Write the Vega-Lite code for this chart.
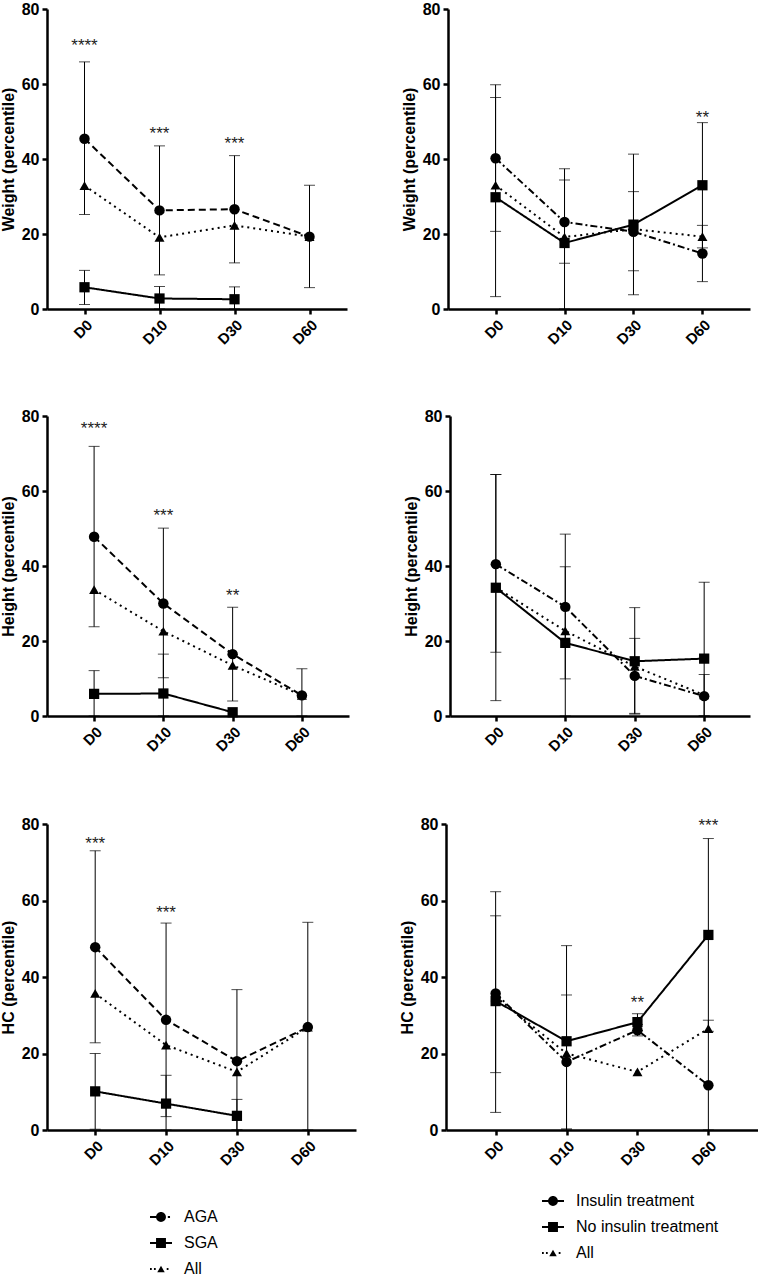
{
  "$schema": "https://vega.github.io/schema/vega-lite/v6.json",
  "padding": {"left": 0, "top": 1, "right": 0, "bottom": 0},
  "background": "white",
  "spacing": 60,
  "resolve": {"scale": {"shape": "independent", "size": "independent", "strokeDash": "independent"}},
  "vconcat": [
    {
      "spacing": 54,
      "resolve": {"scale": {"shape": "independent", "size": "independent", "strokeDash": "independent"}},
      "hconcat": [
        {
          "width": 300, "height": 300,
          "data": {"values": [
            {"t": "D0", "g": "All", "v": 32.9, "lo": null, "hi": null},
            {"t": "D10", "g": "All", "v": 19.1, "lo": null, "hi": null},
            {"t": "D30", "g": "All", "v": 22.3, "lo": null, "hi": null},
            {"t": "D60", "g": "All", "v": 19.3, "lo": null, "hi": null},
            {"t": "D0", "g": "AGA", "v": 45.4, "lo": 25.2, "hi": 65.9},
            {"t": "D10", "g": "AGA", "v": 26.3, "lo": 9.1, "hi": 43.5},
            {"t": "D30", "g": "AGA", "v": 26.6, "lo": 12.3, "hi": 40.9},
            {"t": "D60", "g": "AGA", "v": 19.3, "lo": 5.7, "hi": 33.0},
            {"t": "D0", "g": "SGA", "v": 5.8, "lo": 1.2, "hi": 10.3},
            {"t": "D10", "g": "SGA", "v": 2.8, "lo": 0, "hi": 6.0},
            {"t": "D30", "g": "SGA", "v": 2.6, "lo": 0, "hi": 5.9}
          ]},
          "encoding": {"x": {"field": "t", "type": "ordinal", "scale": {"type": "point", "domain": ["D0", "D10", "D30", "D60"], "padding": 0.5}, "axis": {"title": null}}},
          "layer": [
            {"mark": {"type": "rule", "strokeWidth": 1, "color": "black"}, "encoding": {"y": {"field": "lo", "type": "quantitative", "title": "Weight (percentile)", "scale": {"domain": [0, 80]}, "axis": {"values": [0, 20, 40, 60, 80]}}, "y2": {"field": "hi"}}},
            {"mark": {"type": "tick", "orient": "horizontal", "size": 11, "thickness": 1, "color": "black"}, "encoding": {"y": {"field": "lo", "type": "quantitative", "title": "Weight (percentile)"}}},
            {"mark": {"type": "tick", "orient": "horizontal", "size": 11, "thickness": 1, "color": "black"}, "encoding": {"y": {"field": "hi", "type": "quantitative", "title": "Weight (percentile)"}}},
            {"mark": {"type": "line", "strokeWidth": 2, "color": "black"}, "encoding": {"y": {"field": "v", "type": "quantitative", "title": "Weight (percentile)"}, "strokeDash": {"field": "g", "type": "nominal", "scale": {"domain": ["AGA", "SGA", "All"], "range": [[7, 4], [1, 0], [2, 4]]}, "legend": null}}},
            {"mark": {"type": "point", "filled": true, "opacity": 1, "color": "black"}, "encoding": {"y": {"field": "v", "type": "quantitative", "title": "Weight (percentile)"}, "shape": {"field": "g", "type": "nominal", "scale": {"domain": ["AGA", "SGA", "All"], "range": ["circle", "square", "triangle-up"]}, "legend": null}, "size": {"field": "g", "type": "nominal", "scale": {"domain": ["AGA", "SGA", "All"], "range": [110, 100, 64]}, "legend": null}}},
            {"data": {"values": [{"t": "D0", "y": 71.6, "s": "****"}, {"t": "D10", "y": 48.0, "s": "***"}, {"t": "D30", "y": 45.3, "s": "***"}]}, "mark": {"type": "text", "fontSize": 17, "baseline": "alphabetic", "dy": 10, "color": "#222222", "font": "Liberation Sans"}, "encoding": {"y": {"field": "y", "type": "quantitative", "title": "Weight (percentile)"}, "text": {"field": "s"}}}
          ]
        },
        {
          "width": 302, "height": 300,
          "data": {"values": [
            {"t": "D0", "g": "All", "v": 33.0, "lo": null, "hi": null},
            {"t": "D10", "g": "All", "v": 19.2, "lo": null, "hi": null},
            {"t": "D30", "g": "All", "v": 21.3, "lo": null, "hi": null},
            {"t": "D60", "g": "All", "v": 19.3, "lo": null, "hi": null},
            {"t": "D0", "g": "Insulin treatment", "v": 40.2, "lo": 20.7, "hi": 59.8},
            {"t": "D10", "g": "Insulin treatment", "v": 23.2, "lo": 12.2, "hi": 34.4},
            {"t": "D30", "g": "Insulin treatment", "v": 20.6, "lo": 10.2, "hi": 31.3},
            {"t": "D60", "g": "Insulin treatment", "v": 14.8, "lo": 7.3, "hi": 22.3},
            {"t": "D0", "g": "No insulin treatment", "v": 29.8, "lo": 3.3, "hi": 56.4},
            {"t": "D10", "g": "No insulin treatment", "v": 17.6, "lo": 0, "hi": 37.4},
            {"t": "D30", "g": "No insulin treatment", "v": 22.5, "lo": 3.8, "hi": 41.3},
            {"t": "D60", "g": "No insulin treatment", "v": 33.0, "lo": 16.3, "hi": 49.7}
          ]},
          "encoding": {"x": {"field": "t", "type": "ordinal", "scale": {"type": "point", "domain": ["D0", "D10", "D30", "D60"], "padding": 0.69}, "axis": {"title": null}}},
          "layer": [
            {"mark": {"type": "rule", "strokeWidth": 1, "color": "black"}, "encoding": {"y": {"field": "lo", "type": "quantitative", "title": "Weight (percentile)", "scale": {"domain": [0, 80]}, "axis": {"values": [0, 20, 40, 60, 80]}}, "y2": {"field": "hi"}}},
            {"mark": {"type": "tick", "orient": "horizontal", "size": 11, "thickness": 1, "color": "black"}, "encoding": {"y": {"field": "lo", "type": "quantitative", "title": "Weight (percentile)"}}},
            {"mark": {"type": "tick", "orient": "horizontal", "size": 11, "thickness": 1, "color": "black"}, "encoding": {"y": {"field": "hi", "type": "quantitative", "title": "Weight (percentile)"}}},
            {"mark": {"type": "line", "strokeWidth": 2, "color": "black"}, "encoding": {"y": {"field": "v", "type": "quantitative", "title": "Weight (percentile)"}, "strokeDash": {"field": "g", "type": "nominal", "scale": {"domain": ["Insulin treatment", "No insulin treatment", "All"], "range": [[7, 3, 2, 3], [1, 0], [2, 4]]}, "legend": null}}},
            {"mark": {"type": "point", "filled": true, "opacity": 1, "color": "black"}, "encoding": {"y": {"field": "v", "type": "quantitative", "title": "Weight (percentile)"}, "shape": {"field": "g", "type": "nominal", "scale": {"domain": ["Insulin treatment", "No insulin treatment", "All"], "range": ["circle", "square", "triangle-up"]}, "legend": null}, "size": {"field": "g", "type": "nominal", "scale": {"domain": ["Insulin treatment", "No insulin treatment", "All"], "range": [110, 100, 64]}, "legend": null}}},
            {"data": {"values": [{"t": "D60", "y": 52.4, "s": "**"}]}, "mark": {"type": "text", "fontSize": 17, "baseline": "alphabetic", "dy": 10, "color": "#222222", "font": "Liberation Sans"}, "encoding": {"y": {"field": "y", "type": "quantitative", "title": "Weight (percentile)"}, "text": {"field": "s"}}}
          ]
        }
      ]
    },
    {
      "spacing": 61,
      "resolve": {"scale": {"shape": "independent", "size": "independent", "strokeDash": "independent"}},
      "vconcat": [
        {
          "spacing": 54,
          "resolve": {"scale": {"shape": "independent", "size": "independent", "strokeDash": "independent"}},
          "hconcat": [
            {
              "width": 302, "height": 300,
              "data": {"values": [
                {"t": "D0", "g": "All", "v": 33.7, "lo": null, "hi": null},
                {"t": "D10", "g": "All", "v": 22.6, "lo": null, "hi": null},
                {"t": "D30", "g": "All", "v": 13.5, "lo": null, "hi": null},
                {"t": "D60", "g": "All", "v": 5.5, "lo": null, "hi": null},
                {"t": "D0", "g": "AGA", "v": 47.8, "lo": 23.8, "hi": 71.9},
                {"t": "D10", "g": "AGA", "v": 30.0, "lo": 10.2, "hi": 50.1},
                {"t": "D30", "g": "AGA", "v": 16.5, "lo": 4.0, "hi": 29.0},
                {"t": "D60", "g": "AGA", "v": 5.5, "lo": 0, "hi": 12.6},
                {"t": "D0", "g": "SGA", "v": 5.9, "lo": 0, "hi": 12.1},
                {"t": "D10", "g": "SGA", "v": 6.0, "lo": 0, "hi": 16.5},
                {"t": "D30", "g": "SGA", "v": 1.0, "lo": null, "hi": null}
              ]},
              "encoding": {"x": {"field": "t", "type": "ordinal", "scale": {"type": "point", "domain": ["D0", "D10", "D30", "D60"], "padding": 0.68}, "axis": {"title": null}}},
              "layer": [
                {"mark": {"type": "rule", "strokeWidth": 1, "color": "black"}, "encoding": {"y": {"field": "lo", "type": "quantitative", "title": "Height (percentile)", "scale": {"domain": [0, 80]}, "axis": {"values": [0, 20, 40, 60, 80]}}, "y2": {"field": "hi"}}},
                {"mark": {"type": "tick", "orient": "horizontal", "size": 11, "thickness": 1, "color": "black"}, "encoding": {"y": {"field": "lo", "type": "quantitative", "title": "Height (percentile)"}}},
                {"mark": {"type": "tick", "orient": "horizontal", "size": 11, "thickness": 1, "color": "black"}, "encoding": {"y": {"field": "hi", "type": "quantitative", "title": "Height (percentile)"}}},
                {"mark": {"type": "line", "strokeWidth": 2, "color": "black"}, "encoding": {"y": {"field": "v", "type": "quantitative", "title": "Height (percentile)"}, "strokeDash": {"field": "g", "type": "nominal", "scale": {"domain": ["AGA", "SGA", "All"], "range": [[7, 4], [1, 0], [2, 4]]}, "legend": null}}},
                {"mark": {"type": "point", "filled": true, "opacity": 1, "color": "black"}, "encoding": {"y": {"field": "v", "type": "quantitative", "title": "Height (percentile)"}, "shape": {"field": "g", "type": "nominal", "scale": {"domain": ["AGA", "SGA", "All"], "range": ["circle", "square", "triangle-up"]}, "legend": null}, "size": {"field": "g", "type": "nominal", "scale": {"domain": ["AGA", "SGA", "All"], "range": [110, 100, 64]}, "legend": null}}},
                {"data": {"values": [{"t": "D0", "y": 77.8, "s": "****"}, {"t": "D10", "y": 54.7, "s": "***"}, {"t": "D30", "y": 33.4, "s": "**"}]}, "mark": {"type": "text", "fontSize": 17, "baseline": "alphabetic", "dy": 10, "color": "#222222", "font": "Liberation Sans"}, "encoding": {"y": {"field": "y", "type": "quantitative", "title": "Height (percentile)"}, "text": {"field": "s"}}}
              ]
            },
            {
              "width": 300, "height": 300,
              "data": {"values": [
                {"t": "D0", "g": "All", "v": 34.3, "lo": null, "hi": null},
                {"t": "D10", "g": "All", "v": 22.7, "lo": null, "hi": null},
                {"t": "D30", "g": "All", "v": 13.2, "lo": null, "hi": null},
                {"t": "D60", "g": "All", "v": 5.6, "lo": null, "hi": null},
                {"t": "D0", "g": "Insulin treatment", "v": 40.5, "lo": 17.0, "hi": 64.4},
                {"t": "D10", "g": "Insulin treatment", "v": 29.1, "lo": 9.9, "hi": 48.5},
                {"t": "D30", "g": "Insulin treatment", "v": 10.7, "lo": 0.7, "hi": 20.7},
                {"t": "D60", "g": "Insulin treatment", "v": 5.3, "lo": 0, "hi": 11.1},
                {"t": "D0", "g": "No insulin treatment", "v": 34.2, "lo": 4.1, "hi": 64.4},
                {"t": "D10", "g": "No insulin treatment", "v": 19.5, "lo": 0, "hi": 39.8},
                {"t": "D30", "g": "No insulin treatment", "v": 14.6, "lo": 0.5, "hi": 28.9},
                {"t": "D60", "g": "No insulin treatment", "v": 15.3, "lo": 0, "hi": 35.7}
              ]},
              "encoding": {"x": {"field": "t", "type": "ordinal", "scale": {"type": "point", "domain": ["D0", "D10", "D30", "D60"], "padding": 0.66}, "axis": {"title": null}}},
              "layer": [
                {"mark": {"type": "rule", "strokeWidth": 1, "color": "black"}, "encoding": {"y": {"field": "lo", "type": "quantitative", "title": "Height (percentile)", "scale": {"domain": [0, 80]}, "axis": {"values": [0, 20, 40, 60, 80]}}, "y2": {"field": "hi"}}},
                {"mark": {"type": "tick", "orient": "horizontal", "size": 11, "thickness": 1, "color": "black"}, "encoding": {"y": {"field": "lo", "type": "quantitative", "title": "Height (percentile)"}}},
                {"mark": {"type": "tick", "orient": "horizontal", "size": 11, "thickness": 1, "color": "black"}, "encoding": {"y": {"field": "hi", "type": "quantitative", "title": "Height (percentile)"}}},
                {"mark": {"type": "line", "strokeWidth": 2, "color": "black"}, "encoding": {"y": {"field": "v", "type": "quantitative", "title": "Height (percentile)"}, "strokeDash": {"field": "g", "type": "nominal", "scale": {"domain": ["Insulin treatment", "No insulin treatment", "All"], "range": [[7, 3, 2, 3], [1, 0], [2, 4]]}, "legend": null}}},
                {"mark": {"type": "point", "filled": true, "opacity": 1, "color": "black"}, "encoding": {"y": {"field": "v", "type": "quantitative", "title": "Height (percentile)"}, "shape": {"field": "g", "type": "nominal", "scale": {"domain": ["Insulin treatment", "No insulin treatment", "All"], "range": ["circle", "square", "triangle-up"]}, "legend": null}, "size": {"field": "g", "type": "nominal", "scale": {"domain": ["Insulin treatment", "No insulin treatment", "All"], "range": [110, 100, 64]}, "legend": null}}}
              ]
            }
          ]
        },
        {
          "spacing": 43,
          "resolve": {"scale": {"shape": "independent", "size": "independent", "strokeDash": "independent"}},
          "hconcat": [
            {
              "width": 309, "height": 306,
              "resolve": {"scale": {"shape": "independent"}},
              "data": {"values": [
                {"t": "D0", "g": "All", "v": 35.7, "lo": null, "hi": null},
                {"t": "D10", "g": "All", "v": 22.2, "lo": null, "hi": null},
                {"t": "D30", "g": "All", "v": 15.2, "lo": null, "hi": null},
                {"t": "D60", "g": "All", "v": 26.9, "lo": null, "hi": null},
                {"t": "D0", "g": "AGA", "v": 47.8, "lo": 22.8, "hi": 73.0},
                {"t": "D10", "g": "AGA", "v": 28.8, "lo": 3.5, "hi": 54.1},
                {"t": "D30", "g": "AGA", "v": 18.0, "lo": 0, "hi": 36.7},
                {"t": "D60", "g": "AGA", "v": 26.9, "lo": 0, "hi": 54.3},
                {"t": "D0", "g": "SGA", "v": 10.1, "lo": 0.2, "hi": 20.0},
                {"t": "D10", "g": "SGA", "v": 6.9, "lo": 0, "hi": 14.3},
                {"t": "D30", "g": "SGA", "v": 3.7, "lo": 0, "hi": 8.0}
              ]},
              "encoding": {"x": {"field": "t", "type": "ordinal", "scale": {"type": "point", "domain": ["D0", "D10", "D30", "D60"], "padding": 0.68}, "axis": {"title": null}}},
              "layer": [
                {"mark": {"type": "rule", "strokeWidth": 1, "color": "black"}, "encoding": {"y": {"field": "lo", "type": "quantitative", "title": "HC (percentile)", "scale": {"domain": [0, 80]}, "axis": {"values": [0, 20, 40, 60, 80]}}, "y2": {"field": "hi"}}},
                {"mark": {"type": "tick", "orient": "horizontal", "size": 11, "thickness": 1, "color": "black"}, "encoding": {"y": {"field": "lo", "type": "quantitative", "title": "HC (percentile)"}}},
                {"mark": {"type": "tick", "orient": "horizontal", "size": 11, "thickness": 1, "color": "black"}, "encoding": {"y": {"field": "hi", "type": "quantitative", "title": "HC (percentile)"}}},
                {"mark": {"type": "line", "strokeWidth": 2, "color": "black"}, "encoding": {"y": {"field": "v", "type": "quantitative", "title": "HC (percentile)"}, "strokeDash": {"field": "g", "type": "nominal", "scale": {"domain": ["AGA", "SGA", "All"], "range": [[7, 4], [1, 0], [2, 4]]}, "legend": null}}},
                {"mark": {"type": "point", "filled": true, "opacity": 1, "color": "black"}, "encoding": {"y": {"field": "v", "type": "quantitative", "title": "HC (percentile)"}, "shape": {"field": "g", "type": "nominal", "scale": {"domain": ["AGA", "SGA", "All"], "range": ["circle", "square", "triangle-up"]}, "legend": null}, "size": {"field": "g", "type": "nominal", "scale": {"domain": ["AGA", "SGA", "All"], "range": [110, 100, 64]}, "legend": null}}},
                {"data": {"values": [{"t": "D0", "y": 76.1, "s": "***"}, {"t": "D10", "y": 58.1, "s": "***"}]}, "mark": {"type": "text", "fontSize": 17, "baseline": "alphabetic", "dy": 10, "color": "#222222", "font": "Liberation Sans"}, "encoding": {"y": {"field": "y", "type": "quantitative", "title": "HC (percentile)"}, "text": {"field": "s"}}},
                {"data": {"values": [{"g": "AGA"}, {"g": "SGA"}, {"g": "All"}]}, "transform": [{"filter": "false"}], "mark": {"type": "point", "filled": true, "color": "black"},
                 "encoding": {"shape": {"field": "g", "type": "nominal",
                   "scale": {"domain": ["AGA", "SGA", "All"], "range": [
                     "M-1,-0.09H-0.4V0.09H-1Z M-0.45,0A0.45,0.45,0,1,1,0.45,0A0.45,0.45,0,1,1,-0.45,0Z M0.62,-0.09H0.82V0.09H0.62Z",
                     "M-1,-0.09H1V0.09H-1Z M-0.45,-0.45H0.45V0.45H-0.45Z",
                     "M-1,-0.08H-0.84V0.08H-1Z M-0.64,-0.08H-0.48V0.08H-0.64Z M-0.34,0.3L0,-0.3L0.34,0.3Z M0.52,-0.08H0.68V0.08H0.52Z"]},
                   "legend": {"title": null, "orient": "none", "legendX": 103, "legendY": 382, "symbolSize": 484, "symbolFillColor": "black", "symbolStrokeColor": "black", "symbolStrokeWidth": 0, "symbolOpacity": 1, "labelFont": "Liberation Sans", "labelFontSize": 16, "labelColor": "black", "labelOffset": 12, "rowPadding": 7, "padding": 0}}}}
              ]
            },
            {
              "width": 312, "height": 306,
              "resolve": {"scale": {"shape": "independent"}},
              "data": {"values": [
                {"t": "D0", "g": "All", "v": 34.8, "lo": null, "hi": null},
                {"t": "D10", "g": "All", "v": 20.0, "lo": null, "hi": null},
                {"t": "D30", "g": "All", "v": 15.2, "lo": null, "hi": null},
                {"t": "D60", "g": "All", "v": 26.5, "lo": null, "hi": null},
                {"t": "D0", "g": "Insulin treatment", "v": 35.7, "lo": 15.0, "hi": 56.0},
                {"t": "D10", "g": "Insulin treatment", "v": 17.8, "lo": 0.3, "hi": 35.3},
                {"t": "D30", "g": "Insulin treatment", "v": 26.1, "lo": 24.6, "hi": 27.6},
                {"t": "D60", "g": "Insulin treatment", "v": 11.7, "lo": 0, "hi": 28.7},
                {"t": "D0", "g": "No insulin treatment", "v": 33.7, "lo": 4.6, "hi": 62.3},
                {"t": "D10", "g": "No insulin treatment", "v": 23.2, "lo": 0, "hi": 48.2},
                {"t": "D30", "g": "No insulin treatment", "v": 28.2, "lo": 26.0, "hi": 30.4},
                {"t": "D60", "g": "No insulin treatment", "v": 51.0, "lo": 25.8, "hi": 76.2}
              ]},
              "encoding": {"x": {"field": "t", "type": "ordinal", "scale": {"type": "point", "domain": ["D0", "D10", "D30", "D60"], "padding": 0.7}, "axis": {"title": null}}},
              "layer": [
                {"mark": {"type": "rule", "strokeWidth": 1, "color": "black"}, "encoding": {"y": {"field": "lo", "type": "quantitative", "title": "HC (percentile)", "scale": {"domain": [0, 80]}, "axis": {"values": [0, 20, 40, 60, 80]}}, "y2": {"field": "hi"}}},
                {"mark": {"type": "tick", "orient": "horizontal", "size": 11, "thickness": 1, "color": "black"}, "encoding": {"y": {"field": "lo", "type": "quantitative", "title": "HC (percentile)"}}},
                {"mark": {"type": "tick", "orient": "horizontal", "size": 11, "thickness": 1, "color": "black"}, "encoding": {"y": {"field": "hi", "type": "quantitative", "title": "HC (percentile)"}}},
                {"mark": {"type": "line", "strokeWidth": 2, "color": "black"}, "encoding": {"y": {"field": "v", "type": "quantitative", "title": "HC (percentile)"}, "strokeDash": {"field": "g", "type": "nominal", "scale": {"domain": ["Insulin treatment", "No insulin treatment", "All"], "range": [[7, 3, 2, 3], [1, 0], [2, 4]]}, "legend": null}}},
                {"mark": {"type": "point", "filled": true, "opacity": 1, "color": "black"}, "encoding": {"y": {"field": "v", "type": "quantitative", "title": "HC (percentile)"}, "shape": {"field": "g", "type": "nominal", "scale": {"domain": ["Insulin treatment", "No insulin treatment", "All"], "range": ["circle", "square", "triangle-up"]}, "legend": null}, "size": {"field": "g", "type": "nominal", "scale": {"domain": ["Insulin treatment", "No insulin treatment", "All"], "range": [110, 100, 64]}, "legend": null}}},
                {"data": {"values": [{"t": "D30", "y": 34.4, "s": "**"}, {"t": "D60", "y": 80.7, "s": "***"}]}, "mark": {"type": "text", "fontSize": 17, "baseline": "alphabetic", "dy": 10, "color": "#222222", "font": "Liberation Sans"}, "encoding": {"y": {"field": "y", "type": "quantitative", "title": "HC (percentile)"}, "text": {"field": "s"}}},
                {"data": {"values": [{"g": "Insulin treatment"}, {"g": "No insulin treatment"}, {"g": "All"}]}, "transform": [{"filter": "false"}], "mark": {"type": "point", "filled": true, "color": "black"},
                 "encoding": {"shape": {"field": "g", "type": "nominal",
                   "scale": {"domain": ["Insulin treatment", "No insulin treatment", "All"], "range": [
                     "M-1,-0.09H-0.4V0.09H-1Z M-0.45,0A0.45,0.45,0,1,1,0.45,0A0.45,0.45,0,1,1,-0.45,0Z M0.4,-0.09H1V0.09H0.4Z",
                     "M-1,-0.09H1V0.09H-1Z M-0.45,-0.45H0.45V0.45H-0.45Z",
                     "M-1,-0.08H-0.84V0.08H-1Z M-0.64,-0.08H-0.48V0.08H-0.64Z M-0.34,0.3L0,-0.3L0.34,0.3Z M0.52,-0.08H0.68V0.08H0.52Z"]},
                   "legend": {"title": null, "orient": "none", "legendX": 96, "legendY": 366, "symbolSize": 484, "symbolFillColor": "black", "symbolStrokeColor": "black", "symbolStrokeWidth": 0, "symbolOpacity": 1, "labelFont": "Liberation Sans", "labelFontSize": 16, "labelColor": "black", "labelOffset": 12, "rowPadding": 7, "padding": 0}}}}
              ]
            }
          ]
        }
      ]
    }
  ],
  "config": {
    "view": {"stroke": null},
    "font": "Liberation Sans",
    "axis": {"grid": false, "domainColor": "black", "domainWidth": 2.5, "tickColor": "black", "tickWidth": 2.5, "tickSize": 5, "labelColor": "black", "labelFont": "Liberation Sans", "labelFontWeight": "bold", "titleFont": "Liberation Sans", "titleFontWeight": "bold", "titleFontSize": 16, "titleColor": "black"},
    "axisY": {"labelFontSize": 16, "labelPadding": 3, "titlePadding": 5},
    "axisX": {"labelFontSize": 15, "labelAngle": -45, "labelPadding": 3}
  }
}
